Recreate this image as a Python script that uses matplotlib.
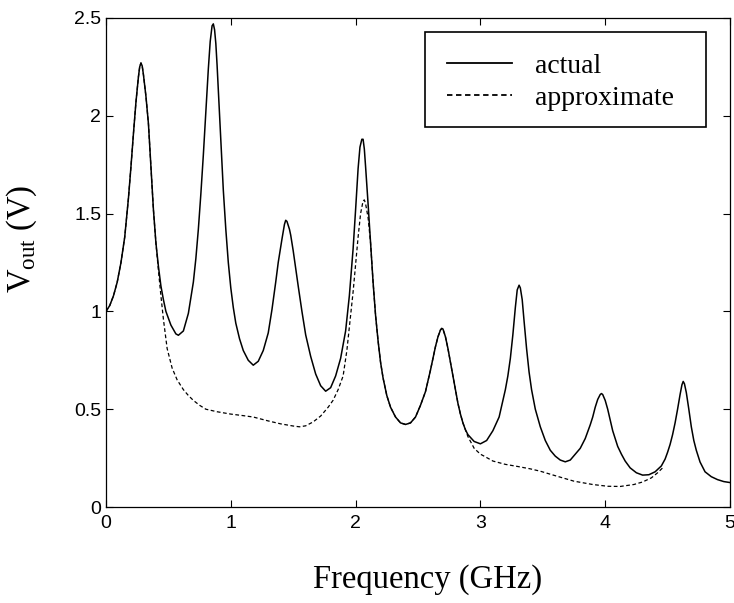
import matplotlib
matplotlib.use("Agg")
import matplotlib.pyplot as plt
from matplotlib.patches import Rectangle

plt.rcParams['mathtext.fontset'] = 'custom'
plt.rcParams['mathtext.rm'] = 'Liberation Serif'

# --- data (frequency in GHz, Vout in V) ---
actual_f = [0.00, 0.03, 0.06, 0.09, 0.12, 0.15, 0.18, 0.20, 0.22, 0.24, 0.26, 0.27,
            0.28, 0.29, 0.30, 0.32, 0.34, 0.36, 0.38, 0.40, 0.42, 0.44, 0.46, 0.48,
            0.52, 0.56, 0.58, 0.62, 0.66, 0.70, 0.72, 0.74, 0.76, 0.78, 0.80, 0.82,
            0.835, 0.85, 0.86, 0.87, 0.88, 0.89, 0.90, 0.92, 0.94, 0.96, 0.98, 1.00,
            1.02, 1.04, 1.07, 1.10, 1.14, 1.18, 1.22, 1.26, 1.30, 1.33, 1.36, 1.38,
            1.40, 1.41, 1.43, 1.44, 1.45, 1.47, 1.48, 1.50, 1.52, 1.54, 1.57, 1.60,
            1.64, 1.68, 1.72, 1.76, 1.80, 1.84, 1.88, 1.92, 1.95, 1.98, 2.00, 2.02,
            2.035, 2.05, 2.06, 2.07, 2.08, 2.10, 2.12, 2.14, 2.16, 2.18, 2.20, 2.22,
            2.25, 2.28, 2.32, 2.36, 2.40, 2.44, 2.48, 2.52, 2.56, 2.60, 2.62, 2.64,
            2.66, 2.68, 2.69, 2.70, 2.72, 2.74, 2.76, 2.78, 2.80, 2.82, 2.84, 2.86,
            2.88, 2.90, 2.95, 3.00, 3.05, 3.10, 3.15, 3.20, 3.22, 3.24, 3.26, 3.28,
            3.295, 3.31, 3.32, 3.335, 3.35, 3.37, 3.39, 3.41, 3.44, 3.48, 3.52, 3.56,
            3.60, 3.64, 3.68, 3.72, 3.76, 3.80, 3.84, 3.88, 3.90, 3.92, 3.94, 3.96,
            3.97, 3.98, 4.00, 4.02, 4.04, 4.06, 4.08, 4.10, 4.13, 4.16, 4.20, 4.25,
            4.30, 4.35, 4.40, 4.45, 4.48, 4.50, 4.52, 4.54, 4.56, 4.58, 4.60, 4.615,
            4.625, 4.635, 4.65, 4.67, 4.69, 4.71, 4.73, 4.76, 4.80, 4.85, 4.90, 4.95,
            5.00]
actual_v = [1.00, 1.03, 1.08, 1.15, 1.25, 1.38, 1.58, 1.74, 1.91, 2.07, 2.20, 2.25,
            2.27, 2.255, 2.21, 2.10, 1.96, 1.74, 1.52, 1.35, 1.23, 1.13, 1.06, 1.00,
            0.93, 0.885, 0.878, 0.90, 0.99, 1.15, 1.27, 1.42, 1.60, 1.80, 2.02, 2.24,
            2.38, 2.46, 2.47, 2.44, 2.37, 2.26, 2.13, 1.86, 1.62, 1.42, 1.25, 1.12,
            1.02, 0.94, 0.86, 0.80, 0.75, 0.725, 0.745, 0.80, 0.89, 1.01, 1.15, 1.25,
            1.33, 1.37, 1.445, 1.466, 1.46, 1.42, 1.39, 1.31, 1.22, 1.13, 1.00, 0.88,
            0.77, 0.68, 0.62, 0.592, 0.61, 0.67, 0.76, 0.90, 1.08, 1.32, 1.52, 1.73,
            1.84, 1.88, 1.88, 1.83, 1.74, 1.55, 1.35, 1.15, 0.98, 0.85, 0.74, 0.66,
            0.57, 0.51, 0.46, 0.43, 0.422, 0.43, 0.46, 0.52, 0.59, 0.70, 0.76, 0.82,
            0.87, 0.905, 0.913, 0.91, 0.87, 0.81, 0.74, 0.67, 0.60, 0.53, 0.475, 0.43,
            0.395, 0.37, 0.335, 0.323, 0.34, 0.39, 0.46, 0.60, 0.67, 0.76, 0.88, 1.02,
            1.11, 1.134, 1.12, 1.06, 0.95, 0.81, 0.69, 0.60, 0.50, 0.41, 0.34, 0.29,
            0.26, 0.24, 0.231, 0.24, 0.27, 0.30, 0.35, 0.42, 0.46, 0.51, 0.55, 0.575,
            0.58, 0.575, 0.545, 0.50, 0.445, 0.39, 0.35, 0.31, 0.27, 0.235, 0.20, 0.175,
            0.163, 0.165, 0.18, 0.21, 0.245, 0.28, 0.32, 0.37, 0.43, 0.50, 0.575, 0.625,
            0.642, 0.63, 0.585, 0.50, 0.41, 0.34, 0.29, 0.23, 0.18, 0.155, 0.14, 0.13,
            0.125]

approx_f = [0.00, 0.03, 0.06, 0.09, 0.12, 0.15, 0.18, 0.20, 0.22, 0.24, 0.26, 0.27,
            0.28, 0.29, 0.30, 0.32, 0.34, 0.36, 0.38, 0.40, 0.42, 0.44, 0.46, 0.49,
            0.53, 0.57, 0.62, 0.66, 0.70, 0.75, 0.80, 0.89, 1.00, 1.10, 1.18, 1.30,
            1.40, 1.50, 1.55, 1.60, 1.66, 1.72, 1.78, 1.82, 1.86, 1.90, 1.93, 1.96,
            1.98, 2.00, 2.02, 2.04, 2.06, 2.07, 2.08, 2.10, 2.12, 2.14, 2.16, 2.18,
            2.20, 2.22, 2.25, 2.28, 2.32, 2.36, 2.40, 2.44, 2.48, 2.52, 2.56, 2.60,
            2.62, 2.64, 2.66, 2.68, 2.69, 2.70, 2.72, 2.74, 2.76, 2.78, 2.80, 2.82,
            2.84, 2.86, 2.88, 2.90, 2.95, 3.00, 3.03, 3.10, 3.20, 3.30, 3.40, 3.48,
            3.60, 3.75, 3.90, 4.02, 4.12, 4.23, 4.30, 4.37, 4.42, 4.46]
approx_v = [1.00, 1.03, 1.08, 1.15, 1.25, 1.38, 1.58, 1.74, 1.91, 2.07, 2.20, 2.25,
            2.27, 2.255, 2.21, 2.10, 1.96, 1.74, 1.52, 1.35, 1.21, 1.08, 0.96, 0.81,
            0.71, 0.65, 0.60, 0.57, 0.545, 0.52, 0.50, 0.487, 0.475, 0.467, 0.46, 0.44,
            0.425, 0.414, 0.41, 0.415, 0.435, 0.465, 0.51, 0.546, 0.60, 0.67, 0.80, 0.98,
            1.10, 1.24, 1.38, 1.50, 1.565, 1.57, 1.55, 1.48, 1.35, 1.15, 0.98, 0.85,
            0.74, 0.66, 0.57, 0.51, 0.46, 0.43, 0.422, 0.43, 0.46, 0.52, 0.59, 0.70,
            0.76, 0.82, 0.87, 0.905, 0.913, 0.91, 0.87, 0.81, 0.74, 0.67, 0.60, 0.53,
            0.475, 0.43, 0.395, 0.36, 0.30, 0.27, 0.26, 0.235, 0.218, 0.207, 0.195, 0.183,
            0.16, 0.132, 0.115, 0.106, 0.105, 0.115, 0.128, 0.149, 0.175, 0.20]

x_ticks = [0, 1, 2, 3, 4, 5]
y_ticks = [0, 0.5, 1, 1.5, 2, 2.5]
y_tick_labels = ['0', '0.5', '1', '1.5', '2', '2.5']

fig = plt.figure(figsize=(7.34, 6.03), dpi=100)
ax = fig.add_axes([106 / 734, 96 / 603, 624 / 734, 489 / 603])

ax.plot(actual_f, actual_v, color='black', linewidth=1.1, label='actual')
ax.plot(approx_f, approx_v, color='black', linewidth=0.9, linestyle=(0, (3, 2)),
        label='approximate')

ax.set_xlim(0, 5)
ax.set_ylim(0, 2.5)
ax.set_xticks(x_ticks)
ax.set_xticklabels([str(t) for t in x_ticks])
ax.set_yticks(y_ticks)
ax.set_yticklabels(y_tick_labels)
ax.tick_params(direction='in', length=5, width=0.8, top=True, right=True,
               labelsize=14, colors='black')
ax.tick_params(axis='x', pad=6)
ax.tick_params(axis='y', pad=3.5)
for lab in ax.get_xticklabels() + ax.get_yticklabels():
    lab.set_family('Liberation Sans')
for sp in ax.spines.values():
    sp.set_linewidth(0.9)

ax.set_xlabel('Frequency (GHz)', family='Liberation Serif', fontsize=23.5)
ax.set_ylabel(r'V$_{\rm out}$ (V)', family='Liberation Serif', fontsize=23.5)
ax.xaxis.set_label_coords(0.516, -0.116)
ax.yaxis.set_label_coords(-0.107, 0.548)

# legend frame drawn separately so the box can be wider than its content
ax.add_patch(Rectangle((0.5112, 0.7771), 0.4503, 0.1943, transform=ax.transAxes,
                       facecolor='white', edgecolor='black', linewidth=1.2, zorder=4))
leg = ax.legend(loc='upper left', bbox_to_anchor=(0.5465, 0.928), borderaxespad=0,
                prop={'family': 'Liberation Serif', 'size': 20}, handlelength=2.35,
                frameon=False, borderpad=0, labelspacing=0.25, handletextpad=0.8)
leg.set_zorder(5)
for h in leg.get_lines():
    h.set_linewidth(1.3)

fig.savefig('out.png', dpi=100)
